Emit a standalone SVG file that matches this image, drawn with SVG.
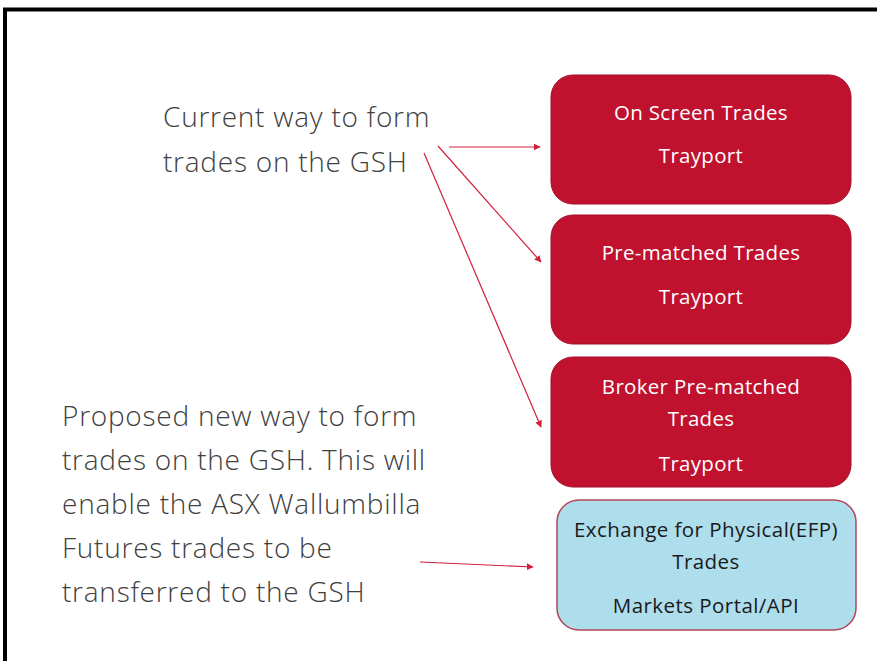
<svg xmlns="http://www.w3.org/2000/svg" width="877" height="661" viewBox="0 0 877 661">
<defs>
<marker id="ah" viewBox="0 0 10 10" refX="9" refY="5" markerWidth="7" markerHeight="7" markerUnits="userSpaceOnUse" orient="auto">
<path d="M0,0 L10,5 L0,10 z" fill="#D0203C"/>
</marker>
<style>
.lbl{font-family:"Open Sans","Liberation Sans",sans-serif;font-weight:300;font-size:28px;letter-spacing:0.75px;fill:#404040}
.red rect{fill:#C0112F;stroke:#A50E28;stroke-width:1}
.red text{font-family:"Open Sans","Liberation Sans",sans-serif;font-size:20.5px;letter-spacing:0.3px;fill:#ffffff;text-anchor:middle}
.blue rect{fill:#AEDDEC;stroke:#B0485A;stroke-width:1.5}
.blue text{font-family:"Open Sans","Liberation Sans",sans-serif;font-size:20.5px;letter-spacing:0.45px;fill:#1a1a1a;text-anchor:middle}
.conn line{stroke:#D0203C;stroke-width:1.2;marker-end:url(#ah)}
</style>
</defs>
<rect x="0" y="0" width="877" height="661" fill="#ffffff"/>
<rect x="5" y="9.5" width="900" height="700" fill="none" stroke="#000000" stroke-width="4"/>
<g id="current-label">
<text class="lbl" x="163" y="127">Current way to form</text>
<text class="lbl" x="163" y="172">trades on the GSH</text>
</g>
<g id="proposed-label">
<text class="lbl" x="62" y="426">Proposed new way to form</text>
<text class="lbl" x="62" y="470">trades on the GSH. This will</text>
<text class="lbl" x="62" y="514">enable the ASX Wallumbilla</text>
<text class="lbl" x="62" y="558">Futures trades to be</text>
<text class="lbl" x="62" y="602">transferred to the GSH</text>
</g>
<g id="on-screen" class="red">
<rect x="551" y="75" width="300" height="129" rx="22"/>
<text x="701" y="120">On Screen Trades</text>
<text x="701" y="163">Trayport</text>
</g>
<g id="pre-matched" class="red">
<rect x="551" y="215" width="300" height="129" rx="22"/>
<text x="701" y="260">Pre-matched Trades</text>
<text x="701" y="304">Trayport</text>
</g>
<g id="broker-pre-matched" class="red">
<rect x="551" y="357" width="300" height="130" rx="22"/>
<text x="701" y="394">Broker Pre-matched</text>
<text x="701" y="426">Trades</text>
<text x="701" y="471">Trayport</text>
</g>
<g id="efp" class="blue">
<rect x="557" y="500" width="299" height="130" rx="22"/>
<text x="706" y="537">Exchange for Physical(EFP)</text>
<text x="706" y="569">Trades</text>
<text x="706" y="613">Markets Portal/API</text>
</g>
<g id="connectors" class="conn">
<line x1="449" y1="147" x2="540" y2="147"/>
<line x1="438" y1="146" x2="541" y2="262"/>
<line x1="424" y1="153" x2="541" y2="427"/>
<line x1="420" y1="562" x2="533" y2="567"/>
</g>
</svg>
